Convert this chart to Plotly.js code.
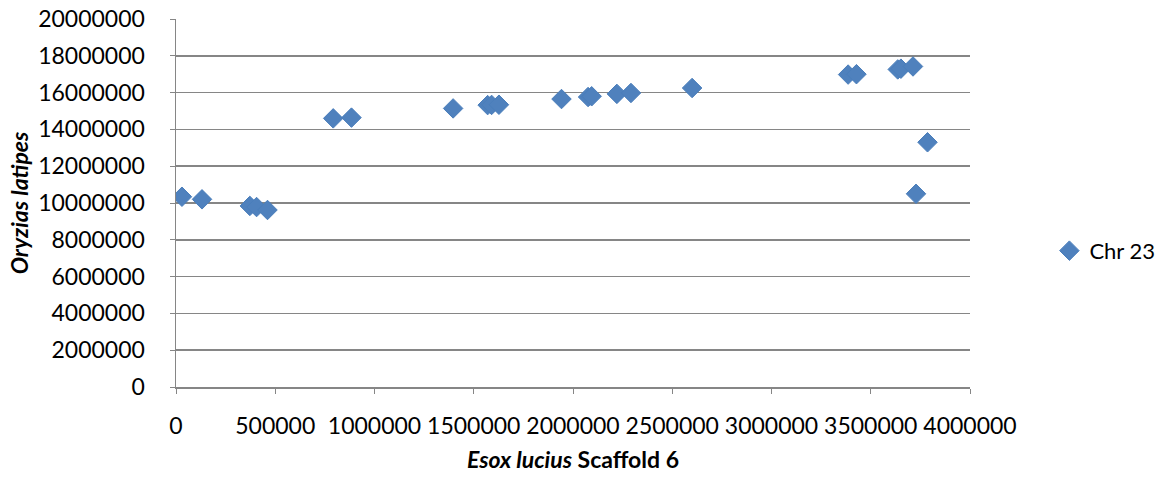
<!DOCTYPE html>
<html>
<head>
<meta charset="utf-8">
<script src="https://cdn.plot.ly/plotly-3.0.1.min.js"></script>
<style>html,body{margin:0;padding:0;background:#fff}#chart{width:1161px;height:477px}</style>
</head>
<body>
<div id="chart"></div>
<script>
const seriesName = "Chr 23";
const esoxPos = [30000, 131000, 372000, 406000, 461000, 792000, 884000, 1396000, 1570000, 1590000, 1627000, 1942000, 2076000, 2094000, 2221000, 2292000, 2600000, 3386000, 3428000, 3636000, 3652000, 3713000, 3728000, 3786000];
const oryziasPos = [10340000, 10200000, 9840000, 9780000, 9620000, 14600000, 14640000, 15140000, 15320000, 15330000, 15340000, 15650000, 15760000, 15800000, 15930000, 15980000, 16250000, 16980000, 17000000, 17260000, 17300000, 17420000, 10500000, 13300000];
const xTicks = [0, 500000, 1000000, 1500000, 2000000, 2500000, 3000000, 3500000, 4000000];
const yTicks = [0, 2000000, 4000000, 6000000, 8000000, 10000000, 12000000, 14000000, 16000000, 18000000, 20000000];

const font = "Lato, 'Open Sans', sans-serif";
const trace = {
  x: esoxPos, y: oryziasPos, type: "scatter", mode: "markers", name: seriesName,
  marker: {symbol: "diamond", size: 15, color: "#4F81BD", line: {color: "#4A7EBB", width: 1}}
};
const layout = {
  width: 1161, height: 477,
  margin: {l: 176, r: 191, t: 19, b: 90, autoexpand: false},
  paper_bgcolor: "#fff", plot_bgcolor: "#fff",
  font: {family: font, size: 23, color: "#000"},
  showlegend: true,
  legend: {x: 1.1, y: 0.37, xanchor: "left", yanchor: "middle", font: {size: 22}, itemwidth: 30, bgcolor: "rgba(0,0,0,0)"},
  xaxis: {
    range: [0, 4000000], tickvals: xTicks, ticktext: xTicks.map(String),
    showgrid: false, zeroline: false, showline: true, linecolor: "#868686", linewidth: 1.5,
    ticks: "outside", ticklen: 5, tickcolor: "#868686",
    ticklabelstandoff: 13,
    title: {text: "<b><i>Esox lucius</i> Scaffold 6</b>", font: {size: 23}, standoff: 14}
  },
  yaxis: {
    range: [0, 20000000], tickvals: yTicks, ticktext: yTicks.map(String),
    showgrid: true, gridcolor: "#868686", gridwidth: 1.5, zeroline: false,
    showline: true, linecolor: "#868686", linewidth: 1.5,
    ticks: "outside", ticklen: 5, tickcolor: "#868686",
    ticklabelstandoff: 20,
    title: {text: "<b><i>Oryzias latipes</i></b>", font: {size: 23}, standoff: 3}
  }
};
Plotly.newPlot("chart", [trace], layout, {displayModeBar: false, staticPlot: true});
</script>
</body>
</html>
